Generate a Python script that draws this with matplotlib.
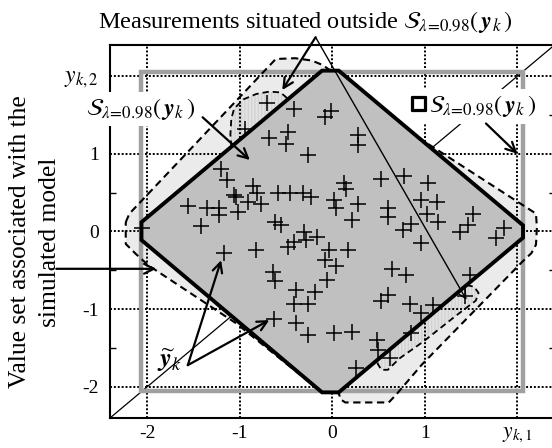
import matplotlib
matplotlib.use('Agg')
import matplotlib.pyplot as plt
import matplotlib.patheffects as pe
from matplotlib.patches import Polygon, Rectangle

plt.rcParams['font.family'] = ['Liberation Serif', 'DejaVu Serif']
plt.rcParams['mathtext.fontset'] = 'stix'

# ---------------- data ----------------
meas_x = [-0.70, -0.94, -0.68, -1.20, -1.14, -0.86, -0.81, -1.06, -1.04, -0.91,
          -0.77, -1.56, -1.35, -1.22, -1.22, -1.02, -1.42, -2.05, -0.41, -0.08,
          -0.01, -0.48, -0.50, 0.28, 0.28, -0.26, 0.53, 0.13, 0.15, -0.59,
          -0.46, -0.32, -0.23, 0.02, 0.04, 0.28, 0.60, 0.60, 0.21, -0.62,
          -0.55, -0.30, -0.16, -0.28, 0.78, 1.03, 0.96, 1.13, 1.02, 1.14,
          1.52, 1.47, 0.85, 0.76, 1.38, 1.86, 1.77, 0.96, -1.17, -0.82,
          -0.64, -0.62, -0.63, -0.41, -0.48, -0.03, 0.17, -0.08, 0.04, 0.64,
          -0.06, -0.39, -0.19, -0.41, -0.26, 0.60, 0.53, -0.39, -0.26, 0.02,
          0.21, 0.48, 0.49, 0.62, 0.26, 0.80, 1.49, 1.43, 0.84, 1.09,
          0.96, 0.85]
meas_y = [1.65, 1.32, 1.20, 0.81, 0.66, 0.58, 0.49, 0.47, 0.44, 0.38,
          0.35, 0.33, 0.30, 0.30, 0.21, 0.25, 0.07, 0.05, 1.58, 1.47,
          1.55, 1.28, 1.13, 1.24, 1.11, 0.98, 0.68, 0.62, 0.55, 0.49,
          0.49, 0.50, 0.44, 0.40, 0.30, 0.36, 0.30, 0.19, 0.15, 0.12,
          0.08, -0.01, -0.07, -0.11, 0.72, 0.62, 0.40, 0.38, 0.23, 0.12,
          0.23, 0.08, 0.10, 0.02, -0.01, 0.04, -0.09, -0.15, -0.28, -0.24,
          -0.52, -0.64, -1.13, -0.13, -0.20, -0.24, -0.24, -0.37, -0.45, -0.48,
          -0.63, -0.75, -0.78, -0.93, -0.93, -0.82, -0.90, -1.18, -1.33, -1.31,
          -1.29, -1.40, -1.53, -1.63, -1.76, -0.56, -0.56, -0.83, -0.93, -0.95,
          -1.05, -1.31]

# zonotope S_{lambda=0.98}(y_k)
zono_x = [-0.11, 0.07, 2.06, 2.06, 0.07, -0.11, -2.06, -2.06]
zono_y = [2.07, 2.07, 0.08, -0.08, -2.07, -2.07, -0.11, 0.12]

# interval hull (box) of the zonotope
box_x = [-2.06, 2.06]
box_y = [-2.05, 2.05]

# value set associated with the simulated model (outer dashed contour)
vset_x = [-2.23, -2.19, -0.61, -0.40, -0.22, -0.10, -0.03, 0.07, 0.94,
          2.20, 2.21, 2.20, 2.15, 2.06, 0.97, 0.69, 0.61, 0.14, 0.09, 0.07,
          -0.11, -1.04, -1.98, -2.12, -2.23]
vset_y = [0.12, 0.23, 2.22, 2.23, 2.20, 2.14, 2.08, 2.07, 1.20,
          0.23, 0.05, -0.17, -0.28, -0.38, -1.71, -2.10, -2.20, -2.20, -2.16, -2.08,
          -2.07, -1.18, -0.44, -0.29, -0.16]

# regions containing the measurements situated outside S
out1_x = [-1.09, -1.10, -1.09, -1.06, -0.96, -0.82, -0.68, -0.56, -0.50, -0.48]
out1_y = [1.09, 1.25, 1.45, 1.58, 1.70, 1.77, 1.80, 1.79, 1.73, 1.70]
out2_x = [1.45, 1.53, 1.58, 1.55, 1.34, 0.98, 0.73, 0.60, 0.53, 0.49, 0.49]
out2_y = [-0.69, -0.71, -0.79, -0.89, -1.08, -1.42, -1.63, -1.78, -1.78, -1.70, -1.65]

xticks = [-2, -1, 0, 1, 2]
xticklabels = ['-2', '-1', '0', '1', r'$y_{k,1}$']
yticks = [-2, -1, 0, 1, 2]
yticklabels = ['-2', '-1', '0', '1', r'$y_{k,2}$']
minor_yticks = [-1.5, -0.5, 0.5, 1.5]

S_lbl = r'$\mathcal{S}_{\lambda\!=\!0.98}\left(\,\mathbfit{y}_k\,\right)$'

# ---------------- figure ----------------
fig = plt.figure(figsize=(5.52, 4.48), dpi=100)
ax = fig.add_axes([110 / 552, 30 / 448, 444.5 / 552, 373 / 448])
ax.set_xlim(-2.4, 2.4)
ax.set_ylim(-2.4, 2.4)

# value set (light grey) with dashed contour
ax.add_patch(Polygon(list(zip(vset_x, vset_y)), closed=True, facecolor='#ebebeb',
                     edgecolor='none', zorder=1))
for lx, ly in [(out1_x, out1_y), (out2_x, out2_y)]:
    ax.add_patch(Polygon(list(zip(lx, ly)), closed=True, facecolor='#e3e3e3',
                         edgecolor='#d2d2d2', linewidth=0, hatch='|||||', zorder=1.2))

# diagonal y = x
ax.plot([-2.4, 2.4], [-2.4, 2.4], color='black', lw=0.9, zorder=1.5)

# dotted grid
for v in xticks:
    ax.axvline(v, color='black', lw=1.4, linestyle=(0, (1, 1)), zorder=1.6)
for v in yticks:
    ax.axhline(v, color='black', lw=1.4, linestyle=(0, (1, 1)), zorder=1.6)

# box
ax.add_patch(Rectangle((box_x[0], box_y[0]), box_x[1] - box_x[0], box_y[1] - box_y[0],
                       facecolor='none', edgecolor='#a0a0a0', lw=3.2, zorder=1.7))

# dashed contours
ax.plot(vset_x + vset_x[:1], vset_y + vset_y[:1], color='black', lw=1.5,
        linestyle=(0, (3.5, 2.2)), zorder=1.8)
for lx, ly in [(out1_x, out1_y), (out2_x, out2_y)]:
    ax.plot(lx, ly, color='black', lw=1.3, linestyle=(0, (3.5, 2.2)), zorder=1.8)

# zonotope
ax.add_patch(Polygon(list(zip(zono_x, zono_y)), closed=True, facecolor='#c0c0c0',
                     edgecolor='black', lw=2.8, joinstyle='miter', zorder=2))

# measurements
ax.plot(meas_x, meas_y, linestyle='none', marker='+', markersize=12,
        markeredgewidth=1.1, color='black', zorder=3)

# ticks
ax.set_xticks(xticks)
ax.set_xticklabels(xticklabels)
ax.set_yticks(yticks)
ax.set_yticklabels(yticklabels)
ax.set_yticks(minor_yticks, minor=True)
ax.tick_params(which='major', length=0, labelsize=14)
ax.tick_params(axis='y', which='major', pad=8)
ax.tick_params(axis='x', which='major', pad=5)
ax.tick_params(which='minor', direction='in', length=4, width=1, left=True, right=True)
ax.get_xticklabels()[-1].set_fontsize(15.5)
ax.get_yticklabels()[-1].set_fontsize(17)
for s in ax.spines.values():
    s.set_linewidth(1.5)

bb = dict(facecolor='white', edgecolor='none', pad=3)
arr_thick = dict(arrowstyle='->,head_length=0.5,head_width=0.25', lw=1.6, color='black',
                 mutation_scale=14, shrinkA=0, shrinkB=0)
arr_thin = dict(arrowstyle='->,head_length=0.5,head_width=0.25', lw=1.0, color='black',
                mutation_scale=14, shrinkA=0, shrinkB=0)

FS = 17.5

# top label with two arrows
ax.text(-0.29, 2.69, 'Measurements situated outside ' + S_lbl, fontsize=FS,
        ha='center', va='center', zorder=5)
ax.annotate('', xy=(-0.54, 1.82), xytext=(-0.18, 2.50), arrowprops=arr_thick,
            annotation_clip=False, zorder=5)
ax.annotate('', xy=(1.45, -0.88), xytext=(-0.18, 2.50), arrowprops=arr_thin,
            annotation_clip=False, zorder=5)

# S label on left
ax.text(-2.07, 1.58, S_lbl, fontsize=FS, ha='center', va='center', bbox=bb, zorder=4)
ax.annotate('', xy=(-0.89, 0.92), xytext=(-1.40, 1.47), arrowprops=arr_thick, zorder=5)

# box label on right
ax.text(1.02, 1.61, S_lbl, fontsize=FS, ha='left', va='center', bbox=bb, zorder=4)
ax.text(1.03, 1.64, '\u25A1', fontsize=13, ha='right', va='center',
        family=['DejaVu Sans'], zorder=4.5,
        bbox=dict(facecolor='white', edgecolor='none', pad=2.5),
        path_effects=[pe.withStroke(linewidth=1.6, foreground='black')])
ax.annotate('', xy=(2.0, 1.0), xytext=(1.66, 1.39), arrowprops=arr_thick, zorder=5)

# y tilde label
ax.text(-1.76, -1.66, r'$\widetilde{\mathbfit{y}}_k$', fontsize=19, ha='center',
        va='center', zorder=4)
ax.annotate('', xy=(-1.20, -0.37), xytext=(-1.56, -1.72), arrowprops=arr_thick, zorder=5)
ax.annotate('', xy=(-0.68, -1.14), xytext=(-1.56, -1.72), arrowprops=arr_thick, zorder=5)

# left label with arrow
fig.text(35 / 552, 1 - 242 / 448, 'Value set associated with the\nsimulated model',
         rotation=90, ha='center', va='center', multialignment='center', fontsize=18.4,
         linespacing=1.45)
ax.annotate('', xy=(-1.90, -0.48), xytext=(-2.98, -0.48), arrowprops=arr_thick,
            annotation_clip=False, zorder=5)

fig.savefig('out.png', dpi=100)
